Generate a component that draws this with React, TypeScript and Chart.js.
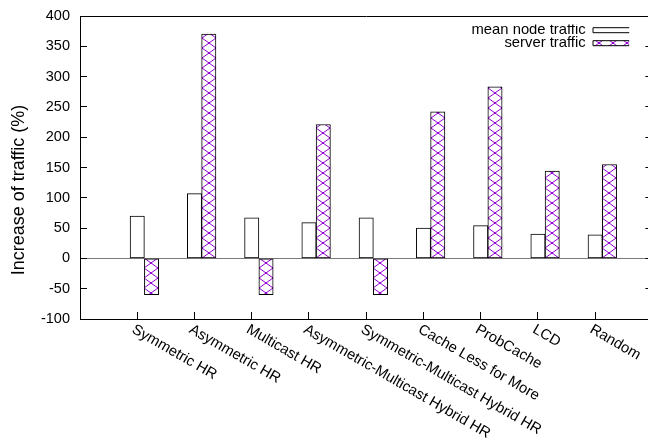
import React, { useEffect, useRef } from "react";
import { Chart, registerables } from "chart.js";

Chart.register(...registerables);

// ---- data ----
const CATEGORIES = [
  "Symmetric HR",
  "Asymmetric HR",
  "Multicast HR",
  "Asymmetric-Multicast Hybrid HR",
  "Symmetric-Multicast Hybrid HR",
  "Cache Less for More",
  "ProbCache",
  "LCD",
  "Random",
];
const MEAN_NODE_TRAFFIC = [70, 107, 67, 59, 67, 50, 54, 40, 39];
const SERVER_TRAFFIC = [-60, 370, -60, 221, -60, 242, 283, 144, 155];
const SERIES_NAMES = ["mean node traffic", "server traffic"];
const Y_TICKS = [-100, -50, 0, 50, 100, 150, 200, 250, 300, 350, 400];
const Y_TITLE = "Increase of traffic (%)";

// ---- style ----
const FONT_FAMILY = "'Liberation Sans', Arial, Helvetica, sans-serif";
const FONT_SIZE = 14.5;
const LABEL_FONT_SIZE = 14.8;
const TITLE_FONT_SIZE = 18;
const VIOLET = "#9400d3";
const BAR_OFFSET = 0.25; // second bar sits right of the first, in category units
const CANVAS_W = 660;
const CANVAS_H = 438;
const LEGEND_RIGHT = 631;
const LEGEND_TOP = 24.6;
const TILE_W = 14;
const TILE_H = 10;

function makeTile(): HTMLCanvasElement {
  const c = document.createElement("canvas");
  c.width = TILE_W;
  c.height = TILE_H;
  const g = c.getContext("2d")!;
  g.fillStyle = "#ffffff";
  g.fillRect(0, 0, TILE_W, TILE_H);
  g.strokeStyle = VIOLET;
  g.lineWidth = 1;
  g.beginPath();
  g.moveTo(0, 0);
  g.lineTo(TILE_W, TILE_H);
  g.moveTo(TILE_W, 0);
  g.lineTo(0, TILE_H);
  g.stroke();
  g.fillStyle = VIOLET;
  const dots = [
    [TILE_W / 2, TILE_H / 2],
    [0, 0],
    [TILE_W, 0],
    [0, TILE_H],
    [TILE_W, TILE_H],
  ];
  for (const [x, y] of dots) {
    g.beginPath();
    g.arc(x, y, 1.1, 0, Math.PI * 2);
    g.fill();
  }
  return c;
}

const decorPlugin = {
  id: "gnuplotDecor",
  beforeDraw(chart: any) {
    const lg = chart.legend;
    if (lg) {
      const pad = lg.options.labels.padding;
      lg.left = LEGEND_RIGHT - lg.width + pad;
      lg.right = lg.left + lg.width;
      lg.top = LEGEND_TOP;
    }
  },
  afterDraw(chart: any) {
    const { ctx, chartArea, scales } = chart;
    ctx.save();
    // top edge of the plot frame (right edge falls outside the picture)
    ctx.strokeStyle = "#000";
    ctx.lineWidth = 1;
    ctx.beginPath();
    ctx.moveTo(Math.round(chartArea.left) + 0.5, Math.round(chartArea.top) + 0.5);
    ctx.lineTo(Math.round(chartArea.right) + 0.5, Math.round(chartArea.top) + 0.5);
    ctx.stroke();

    // rotated category labels
    const xs = scales.x;
    ctx.fillStyle = "#000";
    ctx.font = `${LABEL_FONT_SIZE}px ${FONT_FAMILY}`;
    ctx.textAlign = "left";
    ctx.textBaseline = "top";
    CATEGORIES.forEach((label, i) => {
      const px = xs.getPixelForValue(i);
      ctx.save();
      ctx.translate(px - 0.5, chartArea.bottom + 3);
      ctx.rotate(Math.PI / 6);
      ctx.fillText(label, 0, 0);
      ctx.restore();
    });

    // y axis title
    ctx.save();
    ctx.font = `${TITLE_FONT_SIZE}px ${FONT_FAMILY}`;
    ctx.translate(19, 190);
    ctx.rotate(-Math.PI / 2);
    ctx.textAlign = "center";
    ctx.textBaseline = "middle";
    ctx.fillText(Y_TITLE, 0, 0);
    ctx.restore();
    ctx.restore();
  },
};

export default function App() {
  const ref = useRef<HTMLCanvasElement>(null);

  useEffect(() => {
    const canvas = ref.current!;
    const tile = makeTile();
    const tctx = canvas.getContext("2d")!;
    const legendPattern = tctx.createPattern(tile, "repeat")!;
    legendPattern.setTransform(new DOMMatrix().translate(LEGEND_RIGHT - 38, 28));

    const patternFor = (c: any) => {
      if (c.type !== "data" || !c.parsed) return legendPattern;
      const xs = c.chart.scales.x;
      const ys = c.chart.scales.y;
      const w = xs.getPixelForValue(BAR_OFFSET) - xs.getPixelForValue(0);
      const left = xs.getPixelForValue(c.parsed.x) - w / 2;
      const p = tctx.createPattern(tile, "repeat")!;
      p.setTransform(new DOMMatrix().translate(Math.round(left), Math.round(ys.getPixelForValue(0))));
      return p;
    };

    const yTicksBuilder = (s: any) => {
      s.ticks = Y_TICKS.map((v) => ({ value: v }));
    };

    const chart = new Chart(canvas, {
      type: "bar",
      data: {
        datasets: [
          {
            label: SERIES_NAMES[0],
            data: MEAN_NODE_TRAFFIC.map((v, i) => ({ x: i, y: v })),
            backgroundColor: "#ffffff",
            borderColor: "#000000",
            borderWidth: 1,
            borderSkipped: false,
          },
          {
            label: SERIES_NAMES[1],
            data: SERVER_TRAFFIC.map((v, i) => ({ x: i + BAR_OFFSET, y: v })),
            backgroundColor: patternFor,
            borderColor: "#000000",
            borderWidth: 1,
            borderSkipped: false,
          },
        ],
      },
      options: {
        responsive: false,
        animation: false,
        events: [],
        devicePixelRatio: 1,
        layout: { padding: { left: 0, top: 16, right: CANVAS_W - 652.4, bottom: 0 } },
        datasets: {
          bar: {
            grouped: false,
            barPercentage: 1,
            categoryPercentage: 1,
          },
        },
        scales: {
          x: {
            type: "linear",
            position: "bottom",
            offset: false,
            min: -1,
            max: 9,
            afterBuildTicks: (s: any) => {
              s.ticks = CATEGORIES.map((_, i) => ({ value: i }));
            },
            afterFit: (s: any) => {
              s.height = CANVAS_H - 319;
              s.paddingLeft = 0;
              s.paddingRight = 0;
            },
            ticks: { display: false },
            grid: {
              offset: false,
              drawOnChartArea: false,
              drawTicks: true,
              tickLength: -7,
              tickColor: "#000",
              color: "#000",
            },
            border: { display: true, color: "#000", width: 1 },
          },
          y: {
            type: "linear",
            position: "left",
            min: -100,
            max: 400,
            afterBuildTicks: yTicksBuilder,
            afterFit: (s: any) => {
              s.width = 80;
              s.paddingTop = 0;
              s.paddingBottom = 0;
            },
            ticks: {
              color: "#000",
              padding: 17,
              font: { family: FONT_FAMILY, size: FONT_SIZE },
            },
            grid: {
              drawTicks: true,
              tickLength: -7,
              tickColor: "#000",
              color: (c: any) => (c.tick && c.tick.value === 0 ? "#7a7a7a" : "rgba(0,0,0,0)"),
            },
            border: { display: true, color: "#000", width: 1 },
          },
          y2: {
            type: "linear",
            position: "right",
            min: -100,
            max: 400,
            afterBuildTicks: yTicksBuilder,
            afterFit: (s: any) => {
              s.width = 0;
              s.paddingTop = 0;
              s.paddingBottom = 0;
            },
            ticks: { display: false },
            grid: {
              drawOnChartArea: false,
              drawTicks: true,
              tickLength: -7,
              tickColor: "#000",
            },
            border: { display: false },
          },
        },
        plugins: {
          tooltip: { enabled: false },
          legend: {
            position: "chartArea",
            align: "start",
            rtl: true,
            labels: {
              boxWidth: 38,
              boxHeight: 5,
              padding: 13 - LABEL_FONT_SIZE,
              color: "#000",
              font: { family: FONT_FAMILY, size: LABEL_FONT_SIZE },
            },
          },
        },
      } as any,
      plugins: [decorPlugin],
    });
    return () => chart.destroy();
  }, []);

  return (
    <div
      style={{
        position: "absolute",
        left: 0,
        top: 0,
        width: 648,
        height: 438,
        overflow: "hidden",
        background: "#ffffff",
      }}
    >
      <canvas
        ref={ref}
        width={CANVAS_W}
        height={CANVAS_H}
        style={{ display: "block", width: CANVAS_W, height: CANVAS_H }}
      />
    </div>
  );
}
